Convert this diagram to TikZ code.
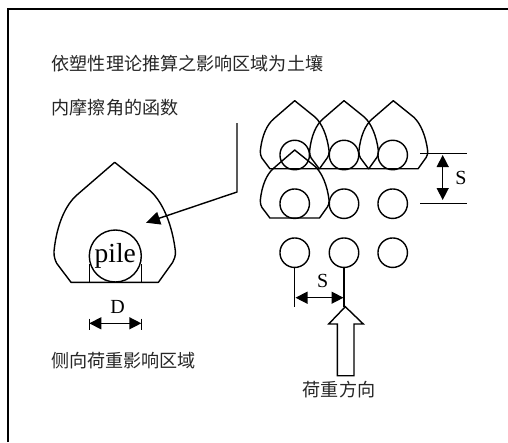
\documentclass[tikz,border=0pt]{standalone}
\usepackage{fontspec}
\setmainfont{Liberation Serif}
\newfontfamily\cjk{Noto Sans CJK SC}
\usetikzlibrary{arrows.meta}
\tikzset{
  ink/.style={line width=1.4pt,black},
  pilecircle/.style={circle,draw,line width=1.4pt,inner sep=0pt,minimum size=29.5pt},
  bigcircle/.style={circle,draw,line width=1.4pt,inner sep=0pt,minimum size=52pt,font=\fontsize{27.5}{27.5}\selectfont},
  dimarrow/.style={line width=1.4pt,{Triangle[length=12pt,width=12pt]}-{Triangle[length=12pt,width=12pt]}},
  cjklabel/.style={inner sep=0pt,anchor=west,font=\cjk\fontsize{18.1}{18.1}\selectfont,text=black!85},
  latin/.style={inner sep=0pt,font=\fontsize{20}{20}\selectfont},
  pics/peach/.style={code={
    \draw[ink,line join=round] (-43.7,120) -- (-58,101)
      .. controls (-59.5,98) and (-61,94) .. (-60.7,89)
      .. controls (-58,62) and (-49,42) .. (-37,32)
      -- (0,0) -- (36,29)
      .. controls (48,40) and (57.5,62) .. (60.7,89)
      .. controls (61,94) and (59.5,97) .. (58,100)
      -- (43.7,120) -- cycle;
  }}
}
\begin{document}
\begin{tikzpicture}[x=1pt,y=-1pt]
\useasboundingbox (0,0) rectangle (508,442);
\fill[white] (0,0) rectangle (508,442);
\draw[line width=2pt] (8,442) -- (8,9) -- (508,9);
\node[cjklabel] (t1) at (51.5,64) {依塑性理论推算之影响区域为土壤};
\node[cjklabel] (t2) at (51.5,108) {内摩擦角的函数};
\node[cjklabel] (t3) at (51,361) {侧向荷重影响区域};
% left figure
\pic at (114.7,162.3) {peach};
\node[bigcircle] (pile) at (115.3,256) {pile};
\coordinate (pb1) at (89.3,282); \coordinate (pt1) at (89.3,264);
\coordinate (pb2) at (141.3,282); \coordinate (pt2) at (141.3,264);
\draw[ink] (pt1) -- (pb1);
\draw[ink] (pt2) -- (pb2);
\coordinate (d1) at (89.3,323.3); \coordinate (d2) at (141.3,323.3);
\draw[ink] (89.3,318.5) -- (89.3,330);
\draw[ink] (141.3,318.5) -- (141.3,330);
\draw[dimarrow] (d1) -- (d2);
\node[latin] (dlabel) at (117.5,306.5) {D};
\coordinate (n1) at (237,123); \coordinate (n2) at (237,192); \coordinate (n3) at (146,222.7);
\draw[ink,-{Triangle[length=14pt,width=13pt]}] (n1) -- (n2) -- (n3);
% right figure peaches
\pic[scale=.567] at (294.7,100.7) {peach};
\pic[scale=.567] at (344,100.7) {peach};
\pic[scale=.567] at (393.3,100.7) {peach};
\pic[scale=.567] at (294.7,150) {peach};
% circles
\foreach \n/\x in {a/294.7,b/344,c/392.7}{
  \node[pilecircle] (\n1) at (\x,155) {};
  \node[pilecircle] (\n2) at (\x,203.7) {};
  \node[pilecircle] (\n3) at (\x,252.7) {};
}
% spacing dimension (vertical)
\coordinate (v1) at (420,153.3); \coordinate (v1e) at (466.7,153.3);
\coordinate (v2) at (420,203.7); \coordinate (v2e) at (466.7,203.7);
\draw[ink] (v1) -- (v1e);
\draw[ink] (v2) -- (v2e);
\draw[dimarrow] (442.7,155) -- (442.7,200);
\node[latin] (s1) at (461,177.5) {S};
% spacing dimension (horizontal)
\coordinate (l1) at (294.7,306.7); \coordinate (l2) at (344,306.7);
\draw[ink] (a3) -- (l1);
\draw[ink] (b3) -- (l2);
\draw[dimarrow] (295.5,297.7) -- (343.5,297.7);
\node[latin] (s2) at (322.7,281) {S};
% load arrow
\draw[ink,line join=miter] (345.3,306.7) -- (363.3,324) -- (354,324) -- (354,375.7) -- (337.3,375.7) -- (337.3,324) -- (328.7,324) -- cycle;
\node[cjklabel,anchor=center] (t4) at (339,390) {荷重方向};
\end{tikzpicture}
\end{document}
